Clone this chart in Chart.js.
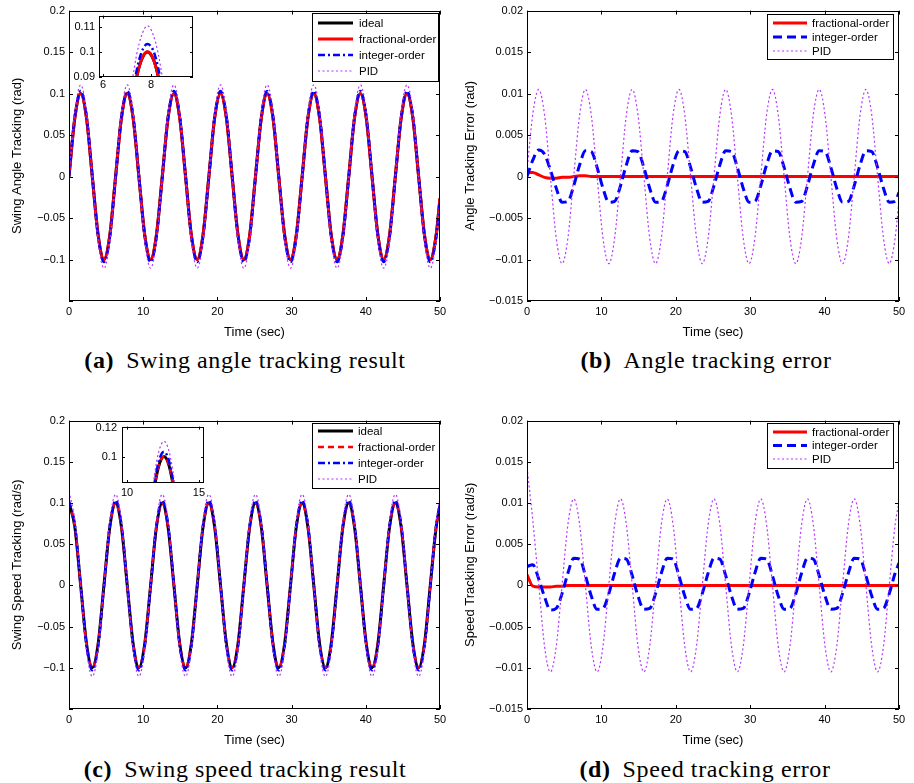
<!DOCTYPE html>
<html>
<head>
<meta charset="utf-8">
<script src="https://cdn.jsdelivr.net/npm/chart.js@4.4.1/dist/chart.umd.min.js"></script>
<style>
  body { margin: 0; background: #fff; width: 914px; height: 783px; position: relative; overflow: hidden; }
  canvas { position: absolute; }
  .caption { position: absolute; width: 500px; text-align: center; font-family: "Liberation Serif", serif;
             font-size: 24px; line-height: 24px; letter-spacing: 0.6px; color: #000; white-space: nowrap; }
  .caption b { margin-right: 12px; }
</style>
</head>
<body>
<canvas id="chartA" width="457" height="345" style="left:0;top:0"></canvas>
<canvas id="chartB" width="457" height="345" style="left:457px;top:0"></canvas>
<canvas id="chartC" width="457" height="345" style="left:0;top:410px"></canvas>
<canvas id="chartD" width="457" height="345" style="left:457px;top:410px"></canvas>
<canvas id="insetA" width="130" height="95" style="left:70px;top:5px"></canvas>
<canvas id="insetC" width="120" height="85" style="left:92px;top:415px"></canvas>

<div class="caption" style="left:-5px;top:348px"><b>(a)</b>Swing angle tracking result</div>
<div class="caption" style="left:456px;top:348px"><b>(b)</b>Angle tracking error</div>
<div class="caption" style="left:-5px;top:757px"><b>(c)</b>Swing speed tracking result</div>
<div class="caption" style="left:455px;top:757px"><b>(d)</b>Speed tracking error</div>

<script>
// ---- data ----
const timeSec = [
    0, 0.79, 1.57, 2.36, 3.14, 3.93, 4.71, 5.50,
    6.28, 7.07, 7.85, 8.64, 9.42, 10.21, 11.00, 11.78,
    12.57, 13.35, 14.14, 14.92, 15.71, 16.49, 17.28, 18.06,
    18.85, 19.63, 20.42, 21.21, 21.99, 22.78, 23.56, 24.35,
    25.13, 25.92, 26.70, 27.49, 28.27, 29.06, 29.85, 30.63,
    31.42, 32.20, 32.99, 33.77, 34.56, 35.34, 36.13, 36.91,
    37.70, 38.48, 39.27, 40.06, 40.84, 41.63, 42.41, 43.20,
    43.98, 44.77, 45.55, 46.34, 47.12, 47.91, 48.69, 49.48,
    50
];

// (a) swing angle (rad)
const angleIdeal = [
    0, 0.0707, 0.1, 0.0707, 0, -0.0707, -0.1, -0.0707,
    0, 0.0707, 0.1, 0.0707, 0, -0.0707, -0.1, -0.0707,
    0, 0.0707, 0.1, 0.0707, 0, -0.0707, -0.1, -0.0707,
    0, 0.0707, 0.1, 0.0707, 0, -0.0707, -0.1, -0.0707,
    0, 0.0707, 0.1, 0.0707, 0, -0.0707, -0.1, -0.0707,
    0, 0.0707, 0.1, 0.0707, 0, -0.0707, -0.1, -0.0707,
    0, 0.0707, 0.1, 0.0707, 0, -0.0707, -0.1, -0.0707,
    0, 0.0707, 0.1, 0.0707, 0, -0.0707, -0.1, -0.0707,
    -0.0262
];
const angleFractional = [
    0.0005, 0.0712, 0.1002, 0.0706, -0.0002, -0.0709, -0.1002, -0.0708,
    0, 0.0708, 0.1001, 0.0707, 0, -0.0707, -0.1, -0.0707,
    0, 0.0707, 0.1, 0.0707, 0, -0.0707, -0.1, -0.0707,
    0, 0.0707, 0.1, 0.0707, 0, -0.0707, -0.1, -0.0707,
    0, 0.0707, 0.1, 0.0707, 0, -0.0707, -0.1, -0.0707,
    0, 0.0707, 0.1, 0.0707, 0, -0.0707, -0.1, -0.0707,
    0, 0.0707, 0.1, 0.0707, 0, -0.0707, -0.1, -0.0707,
    0, 0.0707, 0.1, 0.0707, 0, -0.0707, -0.1, -0.0707,
    -0.0262
];
const angleInteger = [
    0, 0.0727, 0.1032, 0.0734, 0.0008, -0.0721, -0.1031, -0.0737,
    -0.0011, 0.0721, 0.1031, 0.0737, 0.0011, -0.0721, -0.1031, -0.0737,
    -0.0011, 0.0721, 0.1031, 0.0737, 0.0011, -0.0721, -0.1031, -0.0737,
    -0.0011, 0.0721, 0.1031, 0.0737, 0.0011, -0.0721, -0.1031, -0.0737,
    -0.0011, 0.0721, 0.1031, 0.0737, 0.0011, -0.0721, -0.1031, -0.0737,
    -0.0011, 0.0721, 0.1031, 0.0737, 0.0011, -0.0721, -0.1031, -0.0737,
    -0.0011, 0.0721, 0.1031, 0.0737, 0.0011, -0.0721, -0.1031, -0.0737,
    -0.0011, 0.0721, 0.1031, 0.0737, 0.0011, -0.0721, -0.1031, -0.0737,
    -0.0281
];
const anglePid = [
    0.0007, 0.0781, 0.1105, 0.0781, 0, -0.0781, -0.1105, -0.0781,
    0, 0.0781, 0.1105, 0.0781, 0, -0.0781, -0.1105, -0.0781,
    0, 0.0781, 0.1105, 0.0781, 0, -0.0781, -0.1105, -0.0781,
    0, 0.0781, 0.1105, 0.0781, 0, -0.0781, -0.1105, -0.0781,
    0, 0.0781, 0.1105, 0.0781, 0, -0.0781, -0.1105, -0.0781,
    0, 0.0781, 0.1105, 0.0781, 0, -0.0781, -0.1105, -0.0781,
    0, 0.0781, 0.1105, 0.0781, 0, -0.0781, -0.1105, -0.0781,
    0, 0.0781, 0.1105, 0.0781, 0, -0.0781, -0.1105, -0.0781,
    -0.0290
];

// (b) angle tracking error (rad)
const angleErrFractional = [
    0.0005, 0.0005, 0.0002, -0.0001, -0.0002, -0.0002, -0.0001, -0.0001,
    0, 0.0001, 0.0001, 0, 0, 0, 0, 0,
    0, 0, 0, 0, 0, 0, 0, 0,
    0, 0, 0, 0, 0, 0, 0, 0,
    0, 0, 0, 0, 0, 0, 0, 0,
    0, 0, 0, 0, 0, 0, 0, 0,
    0, 0, 0, 0, 0, 0, 0, 0,
    0, 0, 0, 0, 0, 0, 0, 0,
    0
];
const angleErrInteger = [
    0, 0.0020, 0.0032, 0.0027, 0.0008, -0.0014, -0.0031, -0.0030,
    -0.0011, 0.0014, 0.0031, 0.0030, 0.0011, -0.0014, -0.0031, -0.0030,
    -0.0011, 0.0014, 0.0031, 0.0030, 0.0011, -0.0014, -0.0031, -0.0030,
    -0.0011, 0.0014, 0.0031, 0.0030, 0.0011, -0.0014, -0.0031, -0.0030,
    -0.0011, 0.0014, 0.0031, 0.0030, 0.0011, -0.0014, -0.0031, -0.0030,
    -0.0011, 0.0014, 0.0031, 0.0030, 0.0011, -0.0014, -0.0031, -0.0030,
    -0.0011, 0.0014, 0.0031, 0.0030, 0.0011, -0.0014, -0.0031, -0.0030,
    -0.0011, 0.0014, 0.0031, 0.0030, 0.0011, -0.0014, -0.0031, -0.0030,
    -0.0019
];
const angleErrPid = [
    0.0007, 0.0076, 0.0105, 0.0074, 0, -0.0074, -0.0105, -0.0074,
    0, 0.0074, 0.0105, 0.0074, 0, -0.0074, -0.0105, -0.0074,
    0, 0.0074, 0.0105, 0.0074, 0, -0.0074, -0.0105, -0.0074,
    0, 0.0074, 0.0105, 0.0074, 0, -0.0074, -0.0105, -0.0074,
    0, 0.0074, 0.0105, 0.0074, 0, -0.0074, -0.0105, -0.0074,
    0, 0.0074, 0.0105, 0.0074, 0, -0.0074, -0.0105, -0.0074,
    0, 0.0074, 0.0105, 0.0074, 0, -0.0074, -0.0105, -0.0074,
    0, 0.0074, 0.0105, 0.0074, 0, -0.0074, -0.0105, -0.0074,
    -0.0028
];

// (c) swing speed (rad/s)
const speedIdeal = [
    0.1, 0.0707, 0, -0.0707, -0.1, -0.0707, 0, 0.0707,
    0.1, 0.0707, 0, -0.0707, -0.1, -0.0707, 0, 0.0707,
    0.1, 0.0707, 0, -0.0707, -0.1, -0.0707, 0, 0.0707,
    0.1, 0.0707, 0, -0.0707, -0.1, -0.0707, 0, 0.0707,
    0.1, 0.0707, 0, -0.0707, -0.1, -0.0707, 0, 0.0707,
    0.1, 0.0707, 0, -0.0707, -0.1, -0.0707, 0, 0.0707,
    0.1, 0.0707, 0, -0.0707, -0.1, -0.0707, 0, 0.0707,
    0.1, 0.0707, 0, -0.0707, -0.1, -0.0707, 0, 0.0707,
    0.0965
];
const speedFractional = [
    0.1013, 0.0706, -0.0002, -0.0709, -0.1002, -0.0708, -0.0001, 0.0707,
    0.1, 0.0707, 0, -0.0707, -0.1, -0.0707, 0, 0.0707,
    0.1, 0.0707, 0, -0.0707, -0.1, -0.0707, 0, 0.0707,
    0.1, 0.0707, 0, -0.0707, -0.1, -0.0707, 0, 0.0707,
    0.1, 0.0707, 0, -0.0707, -0.1, -0.0707, 0, 0.0707,
    0.1, 0.0707, 0, -0.0707, -0.1, -0.0707, 0, 0.0707,
    0.1, 0.0707, 0, -0.0707, -0.1, -0.0707, 0, 0.0707,
    0.1, 0.0707, 0, -0.0707, -0.1, -0.0707, 0, 0.0707,
    0.0966
];
const speedInteger = [
    0.1023, 0.0732, 0.0008, -0.0721, -0.1030, -0.0737, -0.0011, 0.0721,
    0.1031, 0.0737, 0.0011, -0.0721, -0.1031, -0.0737, -0.0011, 0.0721,
    0.1031, 0.0737, 0.0011, -0.0721, -0.1031, -0.0737, -0.0011, 0.0721,
    0.1031, 0.0737, 0.0011, -0.0721, -0.1031, -0.0737, -0.0011, 0.0721,
    0.1031, 0.0737, 0.0011, -0.0721, -0.1031, -0.0737, -0.0011, 0.0721,
    0.1031, 0.0737, 0.0011, -0.0721, -0.1031, -0.0737, -0.0011, 0.0721,
    0.1031, 0.0737, 0.0011, -0.0721, -0.1031, -0.0737, -0.0011, 0.0721,
    0.1031, 0.0737, 0.0011, -0.0721, -0.1031, -0.0737, -0.0011, 0.0721,
    0.0992
];
const speedPid = [
    0.1143, 0.0785, 0.0002, -0.0781, -0.1105, -0.0781, 0, 0.0781,
    0.1105, 0.0781, 0, -0.0781, -0.1105, -0.0781, 0, 0.0781,
    0.1105, 0.0781, 0, -0.0781, -0.1105, -0.0781, 0, 0.0781,
    0.1105, 0.0781, 0, -0.0781, -0.1105, -0.0781, 0, 0.0781,
    0.1105, 0.0781, 0, -0.0781, -0.1105, -0.0781, 0, 0.0781,
    0.1105, 0.0781, 0, -0.0781, -0.1105, -0.0781, 0, 0.0781,
    0.1105, 0.0781, 0, -0.0781, -0.1105, -0.0781, 0, 0.0781,
    0.1105, 0.0781, 0, -0.0781, -0.1105, -0.0781, 0, 0.0781,
    0.1066
];

// (d) speed tracking error (rad/s)
const speedErrFractional = [
    0.0013, -0.0001, -0.0002, -0.0002, -0.0002, -0.0001, -0.0001, 0,
    0, 0, 0, 0, 0, 0, 0, 0,
    0, 0, 0, 0, 0, 0, 0, 0,
    0, 0, 0, 0, 0, 0, 0, 0,
    0, 0, 0, 0, 0, 0, 0, 0,
    0, 0, 0, 0, 0, 0, 0, 0,
    0, 0, 0, 0, 0, 0, 0, 0,
    0, 0, 0, 0, 0, 0, 0, 0,
    0
];
const speedErrInteger = [
    0.0023, 0.0025, 0.0008, -0.0014, -0.0030, -0.0028, -0.0010, 0.0015,
    0.0033, 0.0032, 0.0012, -0.0013, -0.0029, -0.0028, -0.0010, 0.0015,
    0.0033, 0.0032, 0.0012, -0.0013, -0.0029, -0.0028, -0.0010, 0.0015,
    0.0033, 0.0032, 0.0012, -0.0013, -0.0029, -0.0028, -0.0010, 0.0015,
    0.0033, 0.0032, 0.0012, -0.0013, -0.0029, -0.0028, -0.0010, 0.0015,
    0.0033, 0.0032, 0.0012, -0.0013, -0.0029, -0.0028, -0.0010, 0.0015,
    0.0033, 0.0032, 0.0012, -0.0013, -0.0029, -0.0028, -0.0010, 0.0015,
    0.0033, 0.0032, 0.0012, -0.0013, -0.0029, -0.0028, -0.0010, 0.0015,
    0.0027
];
const speedErrPid = [
    0.0143, 0.0078, 0.0002, -0.0074, -0.0105, -0.0074, 0, 0.0074,
    0.0105, 0.0074, 0, -0.0074, -0.0105, -0.0074, 0, 0.0074,
    0.0105, 0.0074, 0, -0.0074, -0.0105, -0.0074, 0, 0.0074,
    0.0105, 0.0074, 0, -0.0074, -0.0105, -0.0074, 0, 0.0074,
    0.0105, 0.0074, 0, -0.0074, -0.0105, -0.0074, 0, 0.0074,
    0.0105, 0.0074, 0, -0.0074, -0.0105, -0.0074, 0, 0.0074,
    0.0105, 0.0074, 0, -0.0074, -0.0105, -0.0074, 0, 0.0074,
    0.0105, 0.0074, 0, -0.0074, -0.0105, -0.0074, 0, 0.0074,
    0.0101
];

// zoomed insets
const insetATime = [7.0, 7.2, 7.4, 7.6, 7.85, 8.1, 8.3, 8.5, 8.7];
const insetAIdeal = [0.0657, 0.0794, 0.0899, 0.0968, 0.1, 0.0970, 0.0902, 0.0798, 0.0662];
const insetAFractional = [0.0658, 0.0795, 0.0900, 0.0969, 0.1001, 0.0971, 0.0903, 0.0799, 0.0663];
const insetAInteger = [0.0672, 0.0815, 0.0926, 0.0998, 0.1032, 0.1004, 0.0935, 0.0830, 0.0690];
const insetAPid = [0.0723, 0.0873, 0.0989, 0.1065, 0.1105, 0.1067, 0.0993, 0.0878, 0.0728];

const insetCTime = [11.6, 11.9, 12.2, 12.57, 12.9, 13.2, 13.5];
const insetCIdeal = [0.0569, 0.0786, 0.0934, 0.1, 0.0945, 0.0806, 0.0594];
const insetCFractional = [0.0570, 0.0787, 0.0935, 0.1003, 0.0946, 0.0807, 0.0595];
const insetCInteger = [0.0588, 0.0812, 0.0965, 0.1033, 0.0976, 0.0833, 0.0614];
const insetCPid = [0.0629, 0.0869, 0.1032, 0.1105, 0.1044, 0.0891, 0.0656];

// tick values and labels
const timeTicks = [0, 10, 20, 30, 40, 50];
const timeTickLabels = ["0", "10", "20", "30", "40", "50"];
const trackTicks = [-0.15, -0.1, -0.05, 0, 0.05, 0.1, 0.15, 0.2];
const trackTickLabels = ["", "\u22120.1", "\u22120.05", "0", "0.05", "0.1", "0.15", "0.2"];
const errTicks = [-0.015, -0.01, -0.005, 0, 0.005, 0.01, 0.015, 0.02];
const errTickLabels = ["\u22120.015", "\u22120.01", "\u22120.005", "0", "0.005", "0.01", "0.015", "0.02"];
const insetATicksX = [6, 8];
const insetATickLabelsX = ["6", "8"];
const insetATicksY = [0.09, 0.1, 0.11];
const insetATickLabelsY = ["0.09", "0.1", "0.11"];
const insetCTicksX = [10, 15];
const insetCTickLabelsX = ["10", "15"];
const insetCTicksY = [0.1, 0.12];
const insetCTickLabelsY = ["0.1", "0.12"];

// ---- styling ----
const FONT = '"Liberation Sans", Arial, Helvetica, sans-serif';

const lineStyles = {
    ideal:      { borderColor: "#000000", borderWidth: 3 },
    fracSolid:  { borderColor: "#ff0000", borderWidth: 3 },
    fracDash:   { borderColor: "#ff0000", borderWidth: 2.5, borderDash: [6, 4] },
    intDashDot: { borderColor: "#0000ff", borderWidth: 2.5, borderDash: [7, 3, 2, 3] },
    intDash:    { borderColor: "#0000ff", borderWidth: 3, borderDash: [9, 5] },
    pid:        { borderColor: "#b833ff", borderWidth: 1.2, borderDash: [2, 2.5] }
};

function line(label, xs, ys, style, order) {
    return Object.assign({
        label: label,
        data: xs.map((x, i) => ({ x: x, y: ys[i] })),
        order: order,
        pointRadius: 0,
        fill: false,
        cubicInterpolationMode: "monotone",
        borderCapStyle: "butt"
    }, style);
}

function axis(o) {
    return {
        type: "linear",
        min: o.min,
        max: o.max,
        afterBuildTicks: function (scale) {
            scale.ticks = o.ticks.map(v => ({ value: v }));
        },
        afterFit: function (scale) {
            if (o.width !== undefined) scale.width = o.width;
            if (o.height !== undefined) scale.height = o.height;
        },
        grid: { display: false, drawTicks: false },
        border: { display: false },
        ticks: {
            autoSkip: false,
            maxRotation: 0,
            padding: o.pad,
            color: "#000",
            font: { family: FONT, size: 11 },
            callback: (v, i) => o.labels[i]
        },
        title: o.title ? {
            display: true,
            text: o.title,
            color: "#000",
            font: { family: FONT, size: 13 },
            padding: o.titlePad
        } : { display: false }
    };
}

// MATLAB style box with inward ticks on all four sides
const matlabBox = {
    id: "matlabBox",
    beforeDatasetsDraw(chart, args, opts) {
        if (!opts.whiteFill) return;
        const a = chart.chartArea;
        chart.ctx.save();
        chart.ctx.fillStyle = "#fff";
        chart.ctx.fillRect(a.left, a.top, a.width, a.height);
        chart.ctx.restore();
    },
    afterDatasetsDraw(chart, args, opts) {
        const ctx = chart.ctx;
        const a = chart.chartArea;
        const len = opts.tickLen || 4;
        const sx = chart.scales.x, sy = chart.scales.y;
        ctx.save();
        ctx.strokeStyle = "#000";
        ctx.lineWidth = 1;
        ctx.beginPath();
        sx.ticks.forEach(t => {
            const px = Math.round(sx.getPixelForValue(t.value)) + 0.5;
            ctx.moveTo(px, a.bottom); ctx.lineTo(px, a.bottom - len);
            ctx.moveTo(px, a.top); ctx.lineTo(px, a.top + len);
        });
        sy.ticks.forEach(t => {
            const py = Math.round(sy.getPixelForValue(t.value)) + 0.5;
            ctx.moveTo(a.left, py); ctx.lineTo(a.left + len, py);
            ctx.moveTo(a.right, py); ctx.lineTo(a.right - len, py);
        });
        ctx.stroke();
        ctx.strokeRect(Math.round(a.left) + 0.5, Math.round(a.top) + 0.5,
                       Math.round(a.width) - 1, Math.round(a.height) - 1);
        ctx.restore();
    }
};

// legend box inside the axes, top right
const matlabLegend = {
    id: "matlabLegend",
    afterDraw(chart, args, opts) {
        if (!opts.boxW) return;
        const ctx = chart.ctx;
        ctx.save();
        ctx.fillStyle = "#fff";
        ctx.fillRect(opts.boxX, opts.boxY, opts.boxW, opts.boxH);
        ctx.strokeStyle = "#000";
        ctx.lineWidth = 1;
        ctx.strokeRect(opts.boxX + 0.5, opts.boxY + 0.5, opts.boxW, opts.boxH);
        ctx.font = "11.5px " + FONT;
        ctx.textBaseline = "middle";
        chart.data.datasets.forEach((ds, i) => {
            const y = opts.boxY + opts.first + i * opts.step;
            ctx.strokeStyle = ds.borderColor;
            ctx.lineWidth = ds.borderWidth;
            ctx.setLineDash(ds.borderDash || []);
            ctx.beginPath();
            ctx.moveTo(opts.boxX + opts.lineFrom, y);
            ctx.lineTo(opts.boxX + opts.lineTo, y);
            ctx.stroke();
            ctx.setLineDash([]);
            ctx.fillStyle = "#000";
            ctx.fillText(ds.label, opts.boxX + opts.textX, y + 0.5);
        });
        ctx.restore();
    }
};

function makeChart(id, datasets, scales, layoutPad, boxOpts, legendOpts) {
    return new Chart(document.getElementById(id), {
        type: "line",
        data: { datasets: datasets },
        options: {
            responsive: false,
            animation: false,
            events: [],
            layout: { padding: layoutPad },
            scales: scales,
            plugins: {
                legend: { display: false },
                tooltip: { enabled: false },
                matlabBox: boxOpts,
                matlabLegend: legendOpts || {}
            }
        },
        plugins: [matlabBox, matlabLegend]
    });
}

// (a) swing angle tracking
makeChart("chartA", [
    line("ideal", timeSec, angleIdeal, lineStyles.ideal, 4),
    line("fractional-order", timeSec, angleFractional, lineStyles.fracSolid, 3),
    line("integer-order", timeSec, angleInteger, lineStyles.intDashDot, 2),
    line("PID", timeSec, anglePid, lineStyles.pid, 1)
], {
    x: axis({ min: 0, max: 50, ticks: timeTicks, labels: timeTickLabels, height: 44, pad: 4,
              title: "Time (sec)", titlePad: { top: 0, bottom: 5 } }),
    y: axis({ min: -0.15, max: 0.2, ticks: trackTicks, labels: trackTickLabels, width: 69, pad: 4,
              title: "Swing Angle Tracking (rad)", titlePad: { top: 10, bottom: 0 } })
}, { left: 0, top: 8, right: 17, bottom: 0 }, { tickLen: 4 },
   { boxX: 312, boxY: 13, boxW: 126, boxH: 68, first: 10, step: 16, lineFrom: 6, lineTo: 41, textX: 47 });

// (b) angle tracking error
makeChart("chartB", [
    line("fractional-order", timeSec, angleErrFractional, lineStyles.fracSolid, 3),
    line("integer-order", timeSec, angleErrInteger, lineStyles.intDash, 2),
    line("PID", timeSec, angleErrPid, lineStyles.pid, 1)
], {
    x: axis({ min: 0, max: 50, ticks: timeTicks, labels: timeTickLabels, height: 44, pad: 4,
              title: "Time (sec)", titlePad: { top: 0, bottom: 5 } }),
    y: axis({ min: -0.015, max: 0.02, ticks: errTicks, labels: errTickLabels, width: 70, pad: 4,
              title: "Angle Tracking Error (rad)", titlePad: { top: 6, bottom: 0 } })
}, { left: 0, top: 8, right: 15, bottom: 0 }, { tickLen: 4 },
   { boxX: 310, boxY: 14, boxW: 126, boxH: 45, first: 9, step: 14, lineFrom: 6, lineTo: 40, textX: 45 });

// (c) swing speed tracking
makeChart("chartC", [
    line("ideal", timeSec, speedIdeal, lineStyles.ideal, 4),
    line("fractional-order", timeSec, speedFractional, lineStyles.fracDash, 3),
    line("integer-order", timeSec, speedInteger, lineStyles.intDashDot, 2),
    line("PID", timeSec, speedPid, lineStyles.pid, 1)
], {
    x: axis({ min: 0, max: 50, ticks: timeTicks, labels: timeTickLabels, height: 46, pad: 4,
              title: "Time (sec)", titlePad: { top: 0, bottom: 7 } }),
    y: axis({ min: -0.15, max: 0.2, ticks: trackTicks, labels: trackTickLabels, width: 69, pad: 4,
              title: "Swing Speed Tracking (rad/s)", titlePad: { top: 10, bottom: 0 } })
}, { left: 0, top: 8, right: 17, bottom: 0 }, { tickLen: 4 },
   { boxX: 312, boxY: 13, boxW: 127, boxH: 65, first: 8, step: 16, lineFrom: 6, lineTo: 41, textX: 46 });

// (d) speed tracking error
makeChart("chartD", [
    line("fractional-order", timeSec, speedErrFractional, lineStyles.fracSolid, 3),
    line("integer-order", timeSec, speedErrInteger, lineStyles.intDash, 2),
    line("PID", timeSec, speedErrPid, lineStyles.pid, 1)
], {
    x: axis({ min: 0, max: 50, ticks: timeTicks, labels: timeTickLabels, height: 46, pad: 4,
              title: "Time (sec)", titlePad: { top: 0, bottom: 7 } }),
    y: axis({ min: -0.015, max: 0.02, ticks: errTicks, labels: errTickLabels, width: 70, pad: 4,
              title: "Speed Tracking Error (rad/s)", titlePad: { top: 6, bottom: 0 } })
}, { left: 0, top: 8, right: 15, bottom: 0 }, { tickLen: 4 },
   { boxX: 310, boxY: 13, boxW: 126, boxH: 45, first: 9, step: 13.5, lineFrom: 6, lineTo: 40, textX: 45 });

// inset of (a)
makeChart("insetA", [
    line("ideal", insetATime, insetAIdeal, lineStyles.ideal, 4),
    line("fractional-order", insetATime, insetAFractional, lineStyles.fracSolid, 3),
    line("integer-order", insetATime, insetAInteger, lineStyles.intDashDot, 2),
    line("PID", insetATime, insetAPid, lineStyles.pid, 1)
], {
    x: axis({ min: 5.83, max: 9.75, ticks: insetATicksX, labels: insetATickLabelsX, height: 23, pad: 1 }),
    y: axis({ min: 0.09, max: 0.1146, ticks: insetATicksY, labels: insetATickLabelsY, width: 29, pad: 4 })
}, { left: 0, top: 8, right: 7, bottom: 0 }, { tickLen: 3, whiteFill: true });

// inset of (c)
makeChart("insetC", [
    line("ideal", insetCTime, insetCIdeal, lineStyles.ideal, 4),
    line("fractional-order", insetCTime, insetCFractional, lineStyles.fracDash, 3),
    line("integer-order", insetCTime, insetCInteger, lineStyles.intDashDot, 2),
    line("PID", insetCTime, insetCPid, lineStyles.pid, 1)
], {
    x: axis({ min: 9.65, max: 15.35, ticks: insetCTicksX, labels: insetCTickLabelsX, height: 17, pad: 3 }),
    y: axis({ min: 0.0819, max: 0.1206, ticks: insetCTicksY, labels: insetCTickLabelsY, width: 30, pad: 5 })
}, { left: 0, top: 8, right: 8, bottom: 0 }, { tickLen: 3, whiteFill: true });
</script>
</body>
</html>
